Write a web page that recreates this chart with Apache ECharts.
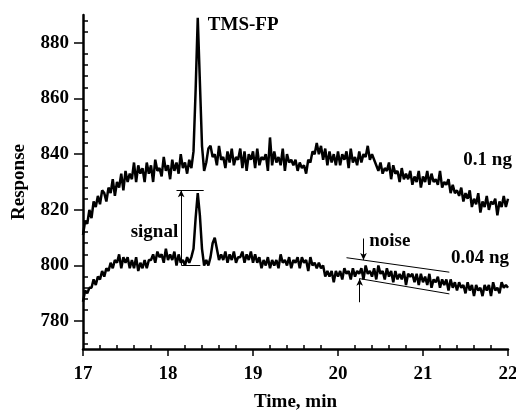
<!DOCTYPE html>
<html>
<head>
<meta charset="utf-8">
<script src="https://cdn.jsdelivr.net/npm/echarts@6/dist/echarts.min.js"></script>
<style>html,body{margin:0;padding:0;background:#fff;}#c{width:516px;height:411px;}</style>
</head>
<body>
<div id="c"></div>
<script>
// Sampling of the traces (min)
const tStart = 17, tStep = 0.025;
// Response, 0.1 ng trace
const upper = [
811,816,815,820,817,823,821,825,822,827,
826,823,828,826,831,825,830,828,833,827,
834,830,833,831,837,830,836,833,835,830,
837,833,836,830,838,834,835,832,839,834,
836,831,838,834,837,833,840,835,837,833,
838,835,841,863,889,866,843,834,837,842,
843,839,840,836,843,838,839,835,841,837,
842,836,839,838,842,835,841,834,840,838,
841,835,842,836,839,838,840,834,846,836,
841,837,839,836,842,834,840,837,838,836,
838,834,837,835,836,833,838,837,841,840,
844,840,843,838,842,836,841,837,840,836,
841,836,840,838,841,835,842,837,839,836,
841,837,840,839,843,838,840,838,836,834,
837,833,835,834,837,831,836,833,834,830,
835,831,833,831,834,829,832,830,834,828,
832,830,834,829,833,830,831,829,834,828,
830,829,831,826,829,826,827,825,828,823,
826,824,827,821,824,822,826,819,823,821,
825,820,823,822,824,818,823,821,825,821,
824
];
// Response, 0.04 ng trace
const lower = [
787,791,790,792,792,795,793,796,795,798,
796,799,798,801,799,802,801,804,799,803,
801,803,799,802,799,803,798,801,799,802,
799,802,802,804,801,805,803,804,801,806,
802,804,802,805,800,804,801,802,800,803,
801,803,806,817,826,818,806,800,802,800,
803,808,810,806,802,804,802,805,801,804,
802,805,801,803,803,805,801,804,802,805,
801,804,801,803,799,802,800,803,799,802,
800,802,799,804,801,802,800,803,799,802,
801,803,799,803,801,802,798,803,800,801,
799,801,799,800,796,798,796,798,794,798,
796,798,795,799,797,798,795,799,796,798,
797,799,795,800,797,798,796,799,795,800,
797,798,795,799,796,798,794,798,795,797,
795,798,793,797,796,797,794,797,793,797,
794,796,793,797,792,795,794,796,792,795,
793,795,791,795,792,794,791,794,792,793,
790,794,791,793,789,793,791,792,789,793,
791,793,789,794,791,792,790,794,792,793,
792
];
const xTicks = [17, 18, 19, 20, 21, 22];
const yLabels = [780, 800, 820, 840, 860, 880];
const yMinor = [772, 776, 784, 788, 792, 796, 804, 808, 812, 816, 824, 828, 832, 836, 844, 848, 852, 856, 864, 868, 872, 876, 884, 888];
const xMinor = [17.2,17.4,17.6,17.8,18.2,18.4,18.6,18.8,19.2,19.4,19.6,19.8,20.2,20.4,20.6,20.8,21.2,21.4,21.6,21.8];

const toPairs = arr => arr.map((v, i) => [+(tStart + i * tStep).toFixed(3), v]);

const FONT = '"Liberation Serif", "Times New Roman", serif';
const txt = {fontFamily: FONT, fontWeight: 'bold', fontSize: 19, color: '#000'};

const chart = echarts.init(document.getElementById('c'), null, {renderer: 'canvas'});
const xBase = {type: 'value', min: 17, max: 22, splitLine: {show: false}};
const yBase = {type: 'value', min: 770, max: 890, splitLine: {show: false}};
const lineThin = {color: '#000', width: 1, type: 'solid'};

chart.setOption({
  animation: false,
  backgroundColor: '#fff',
  grid: {left: 83, right: 8, top: 15, bottom: 62, containLabel: false, outerBoundsMode: 'none'},
  xAxis: [
    Object.assign({}, xBase, {
      interval: 1,
      axisLine: {lineStyle: {color: '#000', width: 2.5}},
      axisTick: {inside: false, length: 7, lineStyle: {color: '#000', width: 1.5}},
      axisLabel: Object.assign({}, txt, {margin: 16, formatter: v => xTicks.includes(v) ? String(v) : ''}),
      name: 'Time, min', nameLocation: 'middle', nameGap: 44,
      nameTextStyle: Object.assign({}, txt)
    }),
    Object.assign({}, xBase, {
      position: 'bottom',
      axisLine: {show: false},
      axisTick: {inside: true, length: 4, customValues: xMinor, lineStyle: {color: '#000', width: 1.5}},
      axisLabel: {show: false}
    })
  ],
  yAxis: [
    Object.assign({}, yBase, {
      axisLine: {show: true, lineStyle: {color: '#000', width: 2.5}},
      axisTick: {show: true, inside: false, length: 9, customValues: yLabels, lineStyle: {color: '#000', width: 1.5}},
      axisLabel: Object.assign({}, txt, {margin: 14, customValues: yLabels}),
      name: 'Response', nameLocation: 'middle', nameGap: 54,
      nameTextStyle: Object.assign({}, txt)
    }),
    Object.assign({}, yBase, {
      position: 'left',
      axisLine: {show: false},
      axisTick: {show: true, inside: true, length: 5, customValues: yMinor, lineStyle: {color: '#000', width: 1.5}},
      axisLabel: {show: false}
    })
  ],
  series: [
    {
      type: 'line', name: '0.1 ng', data: toPairs(upper), showSymbol: false, symbol: 'none',
      lineStyle: {color: '#000', width: 2.5}, silent: true,
      markPoint: {
        symbol: 'rect', symbolSize: 0, silent: true,
        label: Object.assign({}, txt, {show: true, position: 'inside', formatter: '{b}'}),
        data: [
          {name: 'TMS-FP', coord: [18.885, 886.3]},
          {name: '0.1 ng', coord: [21.76, 837.8]}
        ]
      }
    },
    {
      type: 'line', name: '0.04 ng', data: toPairs(lower), showSymbol: false, symbol: 'none',
      lineStyle: {color: '#000', width: 2.5}, silent: true,
      markPoint: {
        symbol: 'rect', symbolSize: 0, silent: true,
        label: Object.assign({}, txt, {show: true, position: 'inside', formatter: '{b}'}),
        data: [
          {name: '0.04 ng', coord: [21.67, 802.5]},
          {name: 'noise', coord: [20.61, 808.7]},
          {name: 'signal', coord: [17.84, 811.9]}
        ]
      },
      markLine: {
        silent: true, symbol: ['none', 'none'], label: {show: false},
        lineStyle: lineThin,
        data: [
          [{coord: [18.10, 827]}, {coord: [18.42, 827]}],
          [{coord: [18.16, 800]}, {coord: [18.38, 800]}],
          [{coord: [18.155, 800]}, {coord: [18.155, 827], symbol: 'arrow', symbolSize: [5, 7]}],
          [{coord: [20.10, 802.8]}, {coord: [21.31, 797.6]}],
          [{coord: [20.25, 795.3]}, {coord: [21.31, 789.8]}],
          [{coord: [20.30, 809.7]}, {coord: [20.30, 802.0], symbol: 'arrow', symbolSize: [5, 7]}],
          [{coord: [20.255, 786.8]}, {coord: [20.255, 795.2], symbol: 'arrow', symbolSize: [5, 7]}]
        ]
      }
    }
  ]
});
</script>
</body>
</html>
